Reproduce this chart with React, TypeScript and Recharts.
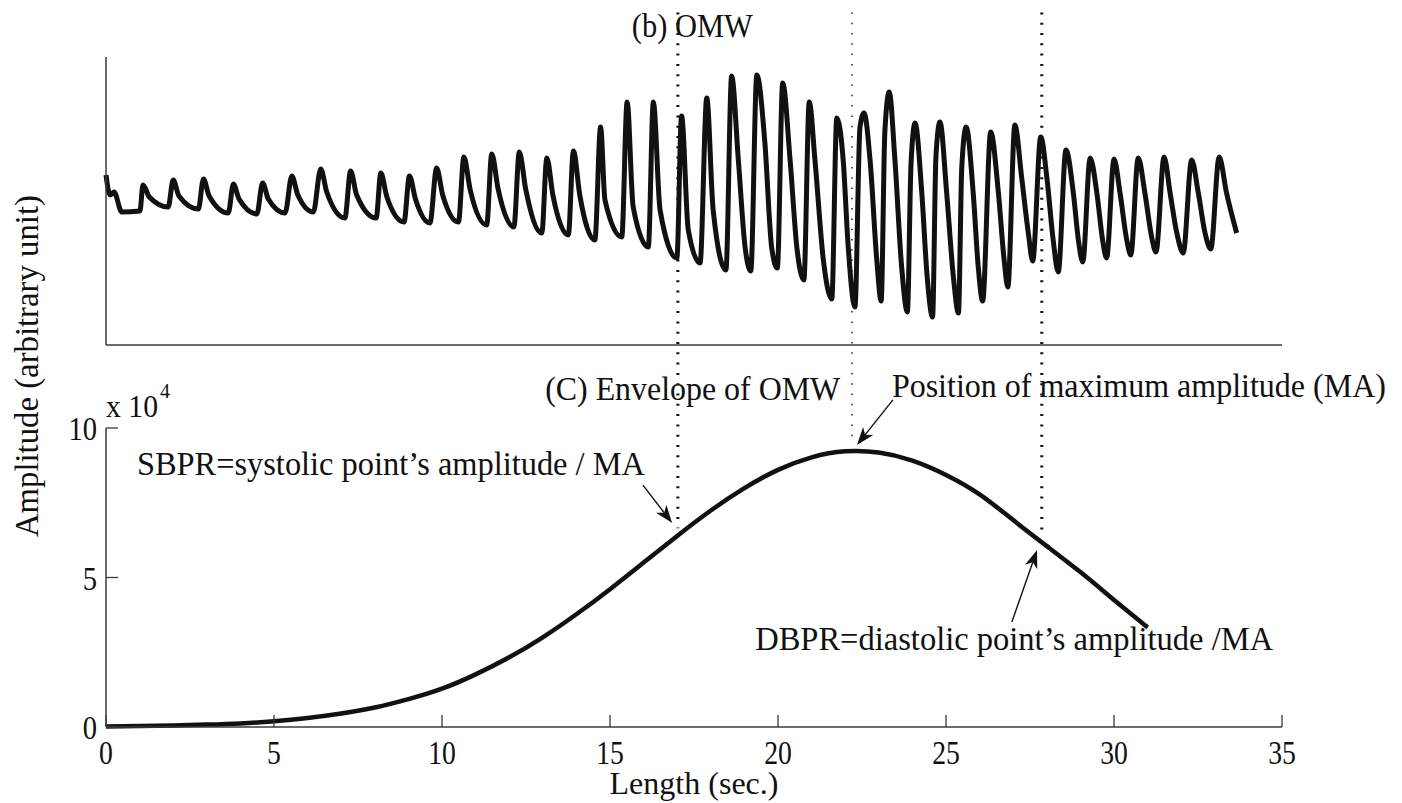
import React from 'react';
import { LineChart, Line, XAxis, YAxis, ReferenceLine, ReferenceDot } from 'recharts';

const FONT = '"Liberation Serif", "Times New Roman", serif';
const INK = '#111111';
const AXIS = '#3a3a3a';

// (b) OMW waveform: time (s) and amplitude (arbitrary unit)
const omwTime = [
  0.00, 0.12, 0.24, 0.47, 1.01, 1.10, 1.29, 1.85, 2.00, 2.17,
  2.75, 2.90, 3.07, 3.64, 3.79, 3.96, 4.49, 4.66, 4.83, 5.33,
  5.53, 5.71, 6.17, 6.39, 6.57, 7.11, 7.28, 7.46, 8.04, 8.18,
  8.36, 8.87, 9.03, 9.21, 9.64, 9.84, 10.02, 10.49, 10.65, 10.84,
  11.33, 11.48, 11.67, 12.14, 12.30, 12.49, 12.97, 13.12, 13.30, 13.76,
  13.91, 14.10, 14.55, 14.72, 14.85, 15.35, 15.51, 15.69, 16.14, 16.29,
  16.49, 16.99, 17.13, 17.33, 17.68, 17.88, 18.07, 18.45, 18.62, 18.82,
  19.02, 19.19, 19.37, 19.61, 19.81, 19.98, 20.14, 20.36, 20.56, 20.77,
  20.93, 21.10, 21.35, 21.60, 21.75, 21.94, 22.09, 22.29, 22.44, 22.56,
  22.74, 22.94, 23.07, 23.18, 23.31, 23.48, 23.68, 23.85, 23.96, 24.08,
  24.28, 24.44, 24.60, 24.70, 24.82, 25.02, 25.22, 25.37, 25.47, 25.60,
  25.81, 25.96, 26.09, 26.33, 26.56, 26.73, 26.84, 27.05, 27.25, 27.45,
  27.58, 27.82, 28.00, 28.19, 28.34, 28.57, 28.79, 28.94, 29.07, 29.29,
  29.49, 29.66, 29.78, 30.00, 30.18, 30.38, 30.50, 30.72, 30.92, 31.12,
  31.25, 31.49, 31.67, 31.87, 32.06, 32.31, 32.51, 32.71, 32.88, 33.13,
  33.35, 33.65,
];
const omwValue = [
  170, 150, 153, 133, 134, 160, 148, 138, 165, 149,
  136, 166, 149, 132, 161, 146, 131, 162, 146, 132,
  169, 150, 133, 176, 153, 127, 174, 150, 127, 172,
  148, 123, 169, 146, 122, 177, 150, 123, 188, 155,
  120, 191, 156, 118, 193, 156, 112, 187, 150, 110,
  194, 150, 105, 218, 145, 108, 243, 138, 98, 243,
  135, 87, 229, 115, 82, 247, 135, 75, 269, 185,
  98, 74, 270, 202, 98, 77, 262, 185, 98, 65,
  243, 185, 85, 46, 227, 185, 98, 38, 218, 232,
  185, 85, 44, 213, 253, 185, 78, 33, 182, 222,
  152, 68, 28, 188, 223, 152, 68, 32, 178, 218,
  152, 78, 44, 213, 152, 85, 58, 220, 168, 112,
  84, 208, 168, 105, 73, 195, 152, 105, 83, 187,
  152, 105, 87, 186, 152, 105, 90, 187, 152, 108,
  93, 188, 152, 112, 92, 185, 152, 112, 96, 188,
  152, 112,
];

// (C) Envelope of OMW, amplitude in units of 10^4
const envTime = [0, 1, 2, 3, 4, 5, 6, 7, 8, 9, 10, 11, 12, 13, 14, 15, 16, 17, 18, 19, 20, 21, 22, 23, 24, 25, 26, 27, 28, 29, 30, 31];
const envValue = [0.02, 0.03, 0.05, 0.08, 0.12, 0.19, 0.30, 0.45, 0.65, 0.93, 1.28, 1.76, 2.33, 3.00, 3.77, 4.61, 5.50, 6.39, 7.24, 7.99, 8.60, 9.02, 9.22, 9.18, 8.91, 8.43, 7.78, 6.92, 6.05, 5.18, 4.25, 3.33];

const xTicks = [0, 5, 10, 15, 20, 25, 30, 35];
const yTicks = [0, 5, 10];

// vertical dotted markers (SBPR, MA, DBPR)
const markerTime = [17.02, 22.2, 27.85];
const markerEnd = [6.65, 9.6, 6.35];
const markerBold = [true, false, true];
const markerTop = 23.9;

// annotation arrows [time, amplitude]
const arrowTail = [[15.98, 8.09], [23.42, 10.94], [26.96, 3.51]];
const arrowTip = [[16.85, 6.82], [22.35, 9.43], [27.71, 5.92]];

type Note = { text: string; t: number; v: number; len?: number; size: number; anchor?: string; rotate?: boolean };
const bottomNotes: Note[] = [
  { text: '(C) Envelope of OMW', t: 13.07, v: 10.94, len: 295, size: 33 },
  { text: 'Position of maximum amplitude (MA)', t: 23.39, v: 11.04, len: 494, size: 33 },
  { text: 'SBPR=systolic point\u2019s amplitude / MA', t: 0.92, v: 8.43, len: 508, size: 33 },
  { text: 'DBPR=diastolic point\u2019s amplitude /MA', t: 19.32, v: 2.58, len: 518, size: 33 },
  { text: 'x 10', t: 0.0, v: 10.37, len: 52, size: 31 },
  { text: '4', t: 1.61, v: 11.0, size: 20 },
  { text: 'Amplitude (arbitrary unit)', t: -2.02, v: 12.07, len: 342, size: 33, anchor: 'middle', rotate: true },
];
const topNotes: Note[] = [
  { text: '(b) OMW', t: 15.65, v: 308, len: 121, size: 33 },
];

const omwData = omwTime.map((t, i) => ({ t, v: omwValue[i] }));
const envData = envTime.map((t, i) => ({ t, v: envValue[i] }));

function XTick(props: any) {
  const { x, y, payload } = props;
  return (
    <g>
      <line x1={x} y1={y} x2={x} y2={y - 12} stroke={AXIS} strokeWidth={1.3} />
      <text transform={`translate(${x} ${y + 37}) scale(0.84 1)`} textAnchor="middle" fontSize={33} fontFamily={FONT} fill={INK}>
        {payload.value}
      </text>
    </g>
  );
}

function YTick(props: any) {
  const { x, y, payload } = props;
  return (
    <g>
      <line x1={x} y1={y} x2={x + 12} y2={y} stroke={AXIS} strokeWidth={1.3} />
      <text transform={`translate(${x - 9} ${y + 12}) scale(0.84 1)`} textAnchor="end" fontSize={34} fontFamily={FONT} fill={INK}>
        {payload.value}
      </text>
    </g>
  );
}

function noteShape(n: Note) {
  return (p: any) => {
    const extra: any = {};
    if (n.len) {
      extra.textLength = n.len;
      extra.lengthAdjust = 'spacingAndGlyphs';
    }
    return (
      <text
        x={p.cx}
        y={p.cy}
        fontSize={n.size}
        fontFamily={FONT}
        fill={INK}
        textAnchor={n.anchor || 'start'}
        transform={n.rotate ? `rotate(-90 ${p.cx} ${p.cy})` : undefined}
        {...extra}
      >
        {n.text}
      </text>
    );
  };
}

function ArrowShape(p: any) {
  const { x1, y1, x2, y2 } = p;
  const dx = x2 - x1;
  const dy = y2 - y1;
  const L = Math.hypot(dx, dy) || 1;
  const ux = dx / L;
  const uy = dy / L;
  const hl = 18;
  const hw = 6.5;
  const bx = x2 - ux * hl;
  const by = y2 - uy * hl;
  const px = -uy;
  const py = ux;
  const nx = bx + ux * 5;
  const ny = by + uy * 5;
  return (
    <g>
      <line x1={x1} y1={y1} x2={nx} y2={ny} stroke={INK} strokeWidth={1.4} />
      <polygon
        points={`${x2},${y2} ${bx + px * hw},${by + py * hw} ${nx},${ny} ${bx - px * hw},${by - py * hw}`}
        fill={INK}
      />
    </g>
  );
}

function XLabel(p: any) {
  const vb = p.viewBox || { x: 106, y: 727, width: 1176 };
  return (
    <text x={vb.x + vb.width / 2} y={vb.y + 67} textAnchor="middle" fontSize={32} fontFamily={FONT} fill={INK} textLength={169} lengthAdjust="spacingAndGlyphs">
      Length (sec.)
    </text>
  );
}

export default function App() {
  return (
    <div style={{ position: 'absolute', left: 0, top: 0, width: 1402, height: 803, background: '#ffffff', overflow: 'hidden' }}>
      <div style={{ position: 'absolute', left: 0, top: 0 }}>
        <LineChart width={1402} height={803} data={envData} margin={{ top: 428, right: 120, bottom: 36, left: 0 }}>
          <XAxis
            dataKey="t"
            type="number"
            domain={[0, 35]}
            ticks={xTicks}
            interval={0}
            height={40}
            tickSize={0}
            tickMargin={0}
            tickLine={false}
            axisLine={{ stroke: AXIS, strokeWidth: 1.5 }}
            tick={<XTick />}
            label={{ value: 'Length (sec.)', content: XLabel }}
          />
          <YAxis
            type="number"
            domain={[0, 10]}
            ticks={yTicks}
            interval={0}
            width={106}
            tickSize={0}
            tickMargin={0}
            tickLine={false}
            axisLine={{ stroke: AXIS, strokeWidth: 1.5 }}
            tick={<YTick />}
          />
          {markerTime.map((t, i) => (
            <ReferenceLine
              key={`m${i}`}
              segment={[{ x: t, y: markerTop }, { x: t, y: markerEnd[i] }]}
              ifOverflow="visible"
              stroke={INK}
              strokeWidth={markerBold[i] ? 3 : 1.4}
              strokeDasharray={markerBold[i] ? '2 8.3' : '1.5 8.8'}
            />
          ))}
          <Line dataKey="v" type="natural" stroke={INK} strokeWidth={4.5} dot={false} activeDot={false} isAnimationActive={false} />
          {arrowTail.map((a, i) => (
            <ReferenceLine
              key={`a${i}`}
              segment={[{ x: a[0], y: a[1] }, { x: arrowTip[i][0], y: arrowTip[i][1] }]}
              ifOverflow="visible"
              shape={ArrowShape}
            />
          ))}
          {bottomNotes.map((n, i) => (
            <ReferenceDot key={`n${i}`} x={n.t} y={n.v} r={0} ifOverflow="visible" shape={noteShape(n)} />
          ))}
        </LineChart>
      </div>
      <div style={{ position: 'absolute', left: 0, top: 0 }}>
        <LineChart width={1402} height={803} data={omwData} margin={{ top: 57, right: 120, bottom: 448, left: 0 }}>
          <XAxis dataKey="t" type="number" domain={[0, 35]} height={10} tick={false} tickLine={false} axisLine={{ stroke: AXIS, strokeWidth: 1.5 }} />
          <YAxis type="number" domain={[0, 288]} width={106} tick={false} tickLine={false} axisLine={{ stroke: AXIS, strokeWidth: 1.5 }} />
          <Line dataKey="v" type="monotone" stroke={INK} strokeWidth={5} dot={false} activeDot={false} isAnimationActive={false} />
          {topNotes.map((n, i) => (
            <ReferenceDot key={`t${i}`} x={n.t} y={n.v} r={0} ifOverflow="visible" shape={noteShape(n)} />
          ))}
        </LineChart>
      </div>
    </div>
  );
}
